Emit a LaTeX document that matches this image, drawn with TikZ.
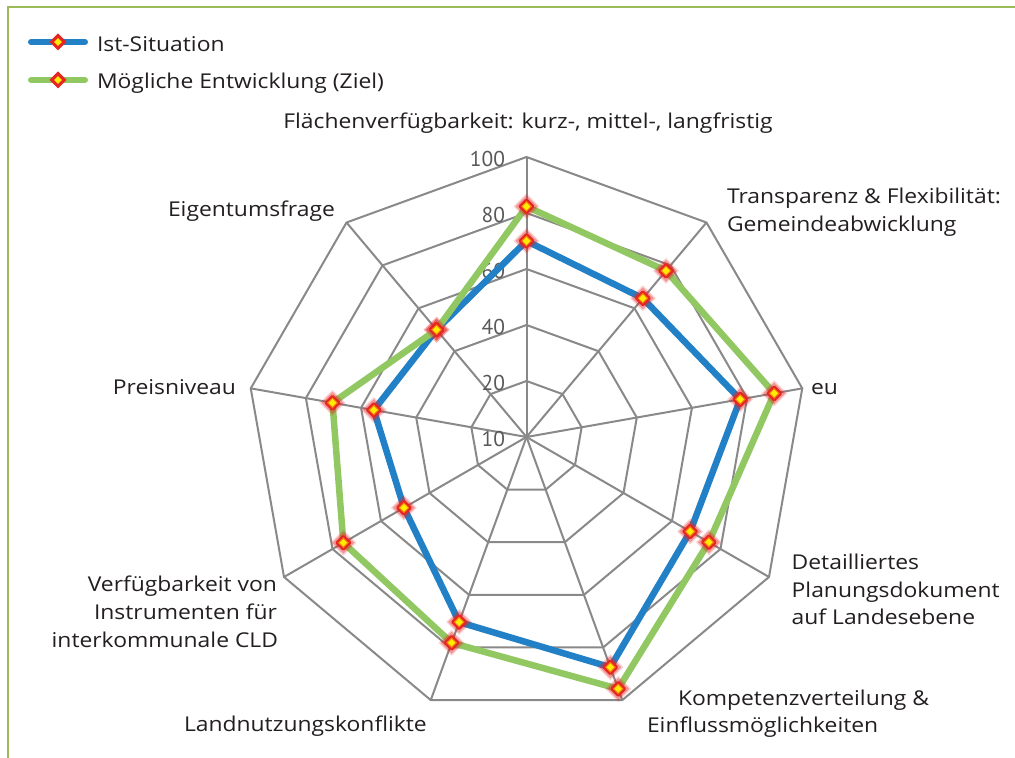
\documentclass[tikz,border=0pt]{standalone}
\usepackage{fontspec}
\setmainfont{Open Sans}[FakeStretch=1.12]
\newfontfamily\scalefont{PT Sans}
\usetikzlibrary{calc}

\definecolor{gridgray}{RGB}{137,137,137}
\definecolor{istblue}{RGB}{33,128,198}
\definecolor{zielgreen}{RGB}{146,200,98}
\definecolor{framegreen}{RGB}{155,187,89}
\definecolor{markred}{RGB}{230,36,34}
\definecolor{markorange}{RGB}{245,120,20}
\definecolor{markyellow}{RGB}{255,236,0}
\definecolor{labeltext}{RGB}{35,31,32}
\definecolor{ticktext}{RGB}{89,89,89}

\begin{document}
\begin{tikzpicture}[x=1bp,y=1bp,
  every node/.style={inner sep=0pt, outer sep=0pt, text=labeltext,
    font=\fontsize{20.5}{28}\selectfont},
  gridline/.style={draw=gridgray, line width=2bp},
  series/.style={line width=6.5bp, line join=round, line cap=round},
  ticklabel/.style={anchor=base east, text=ticktext,
    font=\scalefont\fontsize{21.5}{26}\selectfont},
  leftlabel/.style={anchor=base west},
  rightlabel/.style={anchor=base east},
  datamark/.pic={
    \fill[markred, opacity=0.2] (0,13) -- (13,0) -- (0,-13) -- (-13,0) -- cycle;
    \fill[markred, opacity=0.35] (0,11) -- (11,0) -- (0,-11) -- (-11,0) -- cycle;
    \fill[markred, rounded corners=1.5bp] (0,8.5) -- (8.5,0) -- (0,-8.5) -- (-8.5,0) -- cycle;
    \fill[markorange] (0,5.5) -- (5.5,0) -- (0,-5.5) -- (-5.5,0) -- cycle;
    \fill[markyellow] (0,3.8) -- (3.8,0) -- (0,-3.8) -- (-3.8,0) -- cycle;
  },
  legendmark/.pic={
    \fill[markred] (0,8.5) -- (8.5,0) -- (0,-8.5) -- (-8.5,0) -- cycle;
    \fill[markyellow] (0,3.8) -- (3.8,0) -- (0,-3.8) -- (-3.8,0) -- cycle;
  },
]
  \fill[white] (0,0) rectangle (1015,758);
  \useasboundingbox (0,0) rectangle (1015,758);

  % chart frame (left and top edges)
  \draw[framegreen, line width=2bp] (7.5,0) -- (7.5,751) -- (1015,751);

  % chart centre and outer vertices of the nine axes
  \coordinate (O) at (526.5,321);
  \foreach \i in {0,...,8}
    \coordinate (v\i) at ($(O)+(90-40*\i:280)$);

  % grid rings (20, 40, 60, 80, 100)
  \foreach \k in {1,...,5}{
    \draw[gridline] ($(O)+(90:56*\k)$)
      \foreach \i in {1,...,8}{ -- ($(O)+(90-40*\i:56*\k)$) } -- cycle;
  }
  % spokes
  \foreach \i in {0,...,8}
    \draw[gridline] (O) -- (v\i);

  % scale labels
  \node[ticklabel] (t100) at (505,591) {100};
  \node[ticklabel] (t80)  at (505,535) {80};
  \node[ticklabel] (t60)  at (505,479) {60};
  \node[ticklabel] (t40)  at (505,423) {40};
  \node[ticklabel] (t20)  at (505,367) {20};
  \node[ticklabel] (t10)  at (505,311) {10};

  % data points (radius in bp from the centre)
  \foreach \r [count=\n from 0] in {196,181,217,189,245,197,141.5,155,140}
    \coordinate (b\n) at ($(O)+(90-40*\n:\r)$);
  \foreach \r [count=\n from 0] in {230.5,217,251.5,210.5,268,219,211.5,197,140}
    \coordinate (g\n) at ($(O)+(90-40*\n:\r)$);

  % Ist-Situation
  \draw[series, istblue] (b0) -- (b1) -- (b2) -- (b3) -- (b4) -- (b5) -- (b6) -- (b7) -- (b8) -- cycle;
  \foreach \n in {0,...,8}
    \pic at (b\n) {datamark};

  % Mögliche Entwicklung (Ziel)
  \draw[series, zielgreen] (g0) -- (g1) -- (g2) -- (g3) -- (g4) -- (g5) -- (g6) -- (g7) -- (g8) -- cycle;
  \foreach \n in {0,...,8}
    \pic at (g\n) {datamark};

  % axis labels
  \node[anchor=base] (a0) at (528,629) {Flächenverfügbarkeit: kurz-, mittel-, langfristig};
  \node[leftlabel] (a1a) at (727,554) {Transparenz \& Flexibilität:};
  \node[leftlabel] (a1b) at (727,526) {Gemeindeabwicklung};
  \node[leftlabel] (a2)  at (811,363) {eu};
  \node[leftlabel] (a3a) at (791.7,188.7) {Detailliertes};
  \node[leftlabel] (a3b) at (791.7,160.7) {Planungsdokument};
  \node[leftlabel] (a3c) at (791.7,133) {auf Landesebene};
  \node[leftlabel] (a4a) at (678,52.3) {Kompetenzverteilung \&};
  \node[leftlabel] (a4b) at (647,25.3) {Einflussmöglichkeiten};
  \node[leftlabel] (a5)  at (184,26) {Landnutzungskonflikte};
  \node[rightlabel] (a6a) at (277,166) {Verfügbarkeit von};
  \node[rightlabel] (a6b) at (277,138) {Instrumenten für};
  \node[rightlabel] (a6c) at (278,110) {interkommunale CLD};
  \node[rightlabel] (a7)  at (236,363) {Preisniveau};
  \node[leftlabel] (a8)  at (168,541) {Eigentumsfrage};

  % legend
  \coordinate (lb1) at (31,716);
  \coordinate (lb2) at (85,716);
  \coordinate (lg1) at (31,678);
  \coordinate (lg2) at (85,678);
  \draw[series, istblue, line width=6bp] (lb1) -- (lb2);
  \pic at ($(lb1)!0.5!(lb2)$) {legendmark};
  \node[leftlabel] (lbt) at (97,706) {Ist-Situation};
  \draw[series, zielgreen, line width=6bp] (lg1) -- (lg2);
  \pic at ($(lg1)!0.5!(lg2)$) {legendmark};
  \node[leftlabel] (lgt) at (97,669) {Mögliche Entwicklung (Ziel)};
\end{tikzpicture}
\end{document}
